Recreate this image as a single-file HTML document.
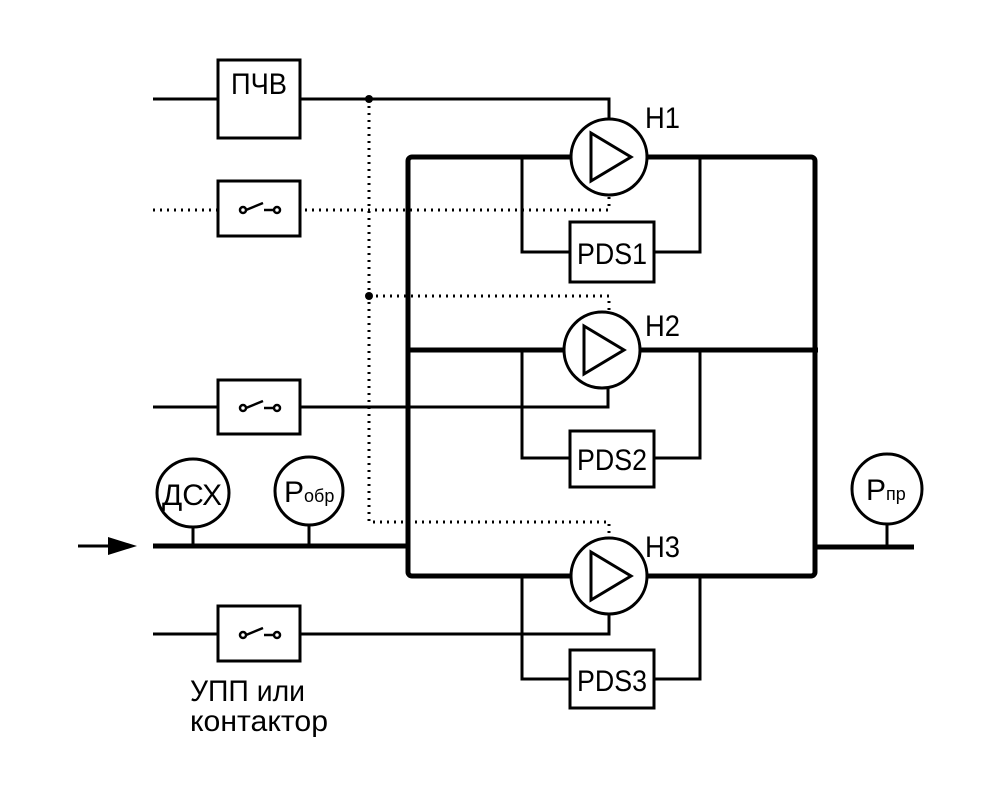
<!DOCTYPE html>
<html><head><meta charset="utf-8"><style>
html,body{margin:0;padding:0;background:#fff}
svg{display:block}
text{font-family:"Liberation Sans","DejaVu Sans",sans-serif;fill:#000}
</style></head><body>
<svg width="1001" height="801" viewBox="0 0 1001 801" xmlns="http://www.w3.org/2000/svg">
<g fill="none" stroke="#000" stroke-width="3">
<line x1="153" y1="99" x2="218" y2="99"/>
<rect x="218" y="60" width="82" height="78"/>
<polyline points="300,99 609,99 609,119"/>
<line x1="153" y1="210" x2="218" y2="210" stroke-dasharray="2,5"/>
<rect x="218" y="181" width="82" height="55"/>
<polyline points="305,210 609,210 609,196" stroke-dasharray="2,5"/>
<polyline points="369,99 369,522 609,522 609,538" stroke-dasharray="2,5"/>
<polyline points="369,296 609,296 609,312" stroke-dasharray="2,5"/>
<line x1="153" y1="407" x2="218" y2="407"/>
<rect x="218" y="380" width="82" height="54"/>
<polyline points="300,407 608,407 608,388"/>
<line x1="153" y1="634" x2="218" y2="634"/>
<rect x="218" y="606" width="82" height="55"/>
<polyline points="300,634 609,634 609,614"/>
<polyline points="522,157 522,252 570,252"/>
<polyline points="654,252 700,252 700,157"/>
<rect x="570" y="222" width="84" height="60"/>
<polyline points="522,350 522,458 570,458"/>
<polyline points="654,458 700,458 700,350"/>
<rect x="570" y="431" width="84" height="56"/>
<polyline points="522,576 522,679 570,679"/>
<polyline points="654,679 700,679 700,576"/>
<rect x="570" y="650" width="84" height="58"/>
<line x1="193" y1="527" x2="193" y2="546"/>
<line x1="309" y1="524" x2="309" y2="546"/>
<line x1="887" y1="524" x2="887" y2="546"/>
</g>
<g fill="none" stroke="#000" stroke-width="5" stroke-linejoin="round">
<rect x="408" y="157" width="407" height="419" rx="4"/>
<line x1="408" y1="350" x2="818" y2="350"/>
<line x1="153" y1="546" x2="408" y2="546"/>
<line x1="815" y1="547" x2="914" y2="547"/>
</g>
<line x1="78" y1="546" x2="115" y2="546" stroke="#000" stroke-width="3"/>
<polygon points="108,537 137,546 108,555" fill="#000"/>
<circle cx="369" cy="99" r="4" fill="#000"/>
<circle cx="369" cy="296" r="4" fill="#000"/>
<g fill="#fff" stroke="#000" stroke-width="3">
<circle cx="609" cy="157" r="38"/>
<circle cx="602" cy="350" r="38"/>
<circle cx="609" cy="576" r="38"/>
<ellipse cx="193" cy="493" rx="36" ry="34"/>
<ellipse cx="309" cy="491" rx="34" ry="34"/>
<ellipse cx="887" cy="489" rx="35" ry="35"/>
</g>
<g fill="none" stroke="#000" stroke-width="3" stroke-linejoin="miter">
<polygon points="591,133 631,157 591,181"/>
<polygon points="584,326 624,350 584,374"/>
<polygon points="591,552 631,576 591,600"/>
</g>
<g fill="#fff" stroke="#000" stroke-width="2.5">
<line x1="246" y1="210" x2="263" y2="203"/><line x1="264" y1="210" x2="274" y2="210"/>
<circle cx="243" cy="210" r="3"/><circle cx="277" cy="210" r="3"/>
<line x1="246" y1="408" x2="263" y2="401"/><line x1="264" y1="408" x2="274" y2="408"/>
<circle cx="243" cy="408" r="3"/><circle cx="277" cy="408" r="3"/>
<line x1="246" y1="635" x2="263" y2="628"/><line x1="264" y1="635" x2="274" y2="635"/>
<circle cx="243" cy="635" r="3"/><circle cx="277" cy="635" r="3"/>
</g>
<g font-size="30">
<text x="259" y="94" text-anchor="middle" textLength="56" lengthAdjust="spacingAndGlyphs">ПЧВ</text>
<text x="612" y="264" text-anchor="middle" textLength="70" lengthAdjust="spacingAndGlyphs">PDS1</text>
<text x="612" y="470" text-anchor="middle" textLength="70" lengthAdjust="spacingAndGlyphs">PDS2</text>
<text x="612" y="691" text-anchor="middle" textLength="70" lengthAdjust="spacingAndGlyphs">PDS3</text>
<text x="645" y="128" textLength="35" lengthAdjust="spacingAndGlyphs">H1</text>
<text x="645" y="336" textLength="35" lengthAdjust="spacingAndGlyphs">H2</text>
<text x="645" y="557" textLength="35" lengthAdjust="spacingAndGlyphs">H3</text>
<text x="192" y="505" text-anchor="middle" textLength="60" lengthAdjust="spacingAndGlyphs">ДСХ</text>
<text x="284" y="502">P<tspan font-size="18">обр</tspan></text>
<text x="866" y="500">P<tspan font-size="18">пр</tspan></text>
<text x="190" y="701" textLength="115" lengthAdjust="spacingAndGlyphs">УПП или</text>
<text x="190" y="731" textLength="138" lengthAdjust="spacingAndGlyphs">контактор</text>
</g>
</svg>
</body></html>
